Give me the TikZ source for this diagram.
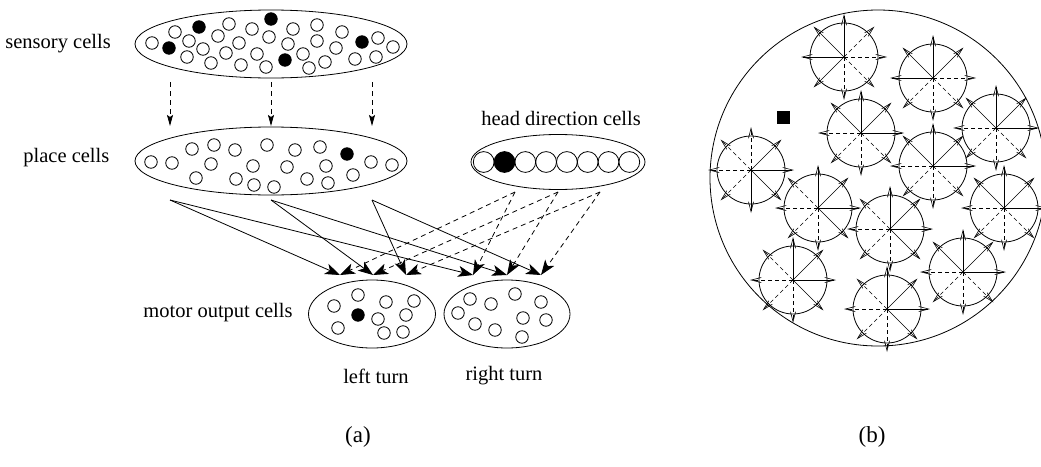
\documentclass[tikz,border=0pt]{standalone}
\usepackage{fontspec}
\setmainfont{Liberation Serif}
\usetikzlibrary{arrows.meta, shapes.geometric, positioning}

\tikzset{
  group/.style={ellipse, draw, inner sep=0pt},
  cell/.style={circle, draw, inner sep=0pt, minimum size=12.5pt},
  full/.style={cell, fill=black},
  hdcell/.style={circle, draw, inner sep=0pt, minimum size=20.8pt},
  hdfull/.style={hdcell, fill=black},
  lbl/.style={font=\fontsize{20.5}{24}\selectfont, inner sep=0pt},
  feed/.style={dash pattern=on 5pt off 4pt, -{Stealth[length=11pt, width=6pt, inset=2pt]}},
  excite/.style={-{Stealth[length=15pt, width=11pt, inset=4pt]}},
  dir/.style={line width=0.6pt, -{Straight Barb[length=10pt, width=5pt]}},
}

\begin{document}
\begin{tikzpicture}[x=1pt, y=-1pt, line width=0.8pt]
\useasboundingbox (0,0) rectangle (1041,466);

% (a) populations
\node[group, minimum width=272pt, minimum height=68pt] (sensory) at (271,44) {};
\node[group, minimum width=272pt, minimum height=68pt] (place) at (271,161) {};
\node[group, minimum width=174pt, minimum height=55pt] (head) at (558,162) {};
\node[group, minimum width=127pt, minimum height=68pt] (left) at (372,314) {};
\node[group, minimum width=126pt, minimum height=68pt] (right) at (507,314) {};

\node[lbl, anchor=west] (sensorylbl) at (5,44) {sensory cells};
\node[lbl, anchor=west] (placelbl) at (23,158) {place cells};
\node[lbl] (headlbl) at (561,118) {head direction cells};
\node[lbl, anchor=west] (motorlbl) at (143,313) {motor output cells};
\node[lbl] (leftlbl) at (376,376) {left turn};
\node[lbl] (rightlbl) at (504,376) {right turn};
\node[lbl, font=\fontsize{23}{26}\selectfont] (alabel) at (358,437) {(a)};
\node[lbl, font=\fontsize{23}{26}\selectfont] (blabel) at (872,437) {(b)};

% cells
\foreach \x/\y/\s [count=\i] in {152/43/cell, 169/48/full, 175/32/cell, 189/41/cell,
    199/27/full, 187/57/cell, 203/49/cell, 218/36/cell, 229/24/cell, 211/63/cell,
    226/53/cell, 239/43/cell, 252/29/cell, 241/65/cell, 257/54/cell, 271/19/full,
    269/37/cell, 266/67/cell, 293/29/cell, 288/44/cell, 285/60/full, 303/54/cell,
    309/68/cell, 317/25/cell, 317/41/cell, 325/62/cell, 336/48/cell, 342/32/cell,
    355/59/cell, 362/42/full, 378/38/cell, 376/57/cell, 393/47/cell}
  \node[\s] (s\i) at (\x,\y) {};
\foreach \x/\y/\s [count=\i] in {151/162/cell, 172/163/cell, 192/149/cell, 214/145/cell,
    235/150/cell, 211/164/cell, 196/178/cell, 236/179/cell, 253/166/cell, 254/185/cell,
    267/145/cell, 274/187/cell, 295/150/cell, 287/167/cell, 307/179/cell, 320/147/cell,
    326/166/cell, 328/183/cell, 347/154/full, 353/175/cell, 371/162/cell, 392/165/cell}
  \node[\s] (p\i) at (\x,\y) {};
\foreach \s [count=\i from 0] in {hdcell, hdfull, hdcell, hdcell, hdcell, hdcell, hdcell, hdcell}
  \node[\s] (hd\i) at (483.7+20.8*\i,162) {};
\foreach \x/\y/\s [count=\i] in {334/306/cell, 358/295/cell, 386/302/cell, 414/301/cell,
    358/315/full, 378/319/cell, 406/315/cell, 338/328/cell, 384/333/cell, 403/332/cell}
  \node[\s] (lt\i) at (\x,\y) {};
\foreach \x/\y [count=\i] in {470/299, 491/304, 515/294, 541/302, 458/313,
    475/324, 495/330, 523/318, 546/320, 522/337}
  \node[cell] (rt\i) at (\x,\y) {};

% connections
\foreach \x [count=\i] in {170,271,372} {
  \coordinate (top\i) at (\x,82);
  \coordinate (bot\i) at (\x,126);
  \draw[feed] (top\i) -- (bot\i);
  \coordinate (pc\i) at (\x,200);
}
\foreach \x [count=\i] in {515,558,600}
  \coordinate (hc\i) at (\x,192);
\foreach \x [count=\i] in {340,373,406}
  \coordinate (l\i) at (\x,275);
\foreach \x [count=\i] in {473,507,541}
  \coordinate (r\i) at (\x,275);
\foreach \i in {1,2,3} {
  \draw[excite] (pc\i) -- (l\i);
  \draw[excite] (pc\i) -- (r\i);
  \draw[excite, dash pattern=on 5pt off 4pt] (hc\i) -- (l\i);
  \draw[excite, dash pattern=on 5pt off 4pt] (hc\i) -- (r\i);
}

% (b) environment with place fields
\draw (878,178) circle[radius=168];
\fill (777,111) rectangle (790,124);
\foreach \cx/\cy/\a in {844/57/90, 933/78/45, 861/133/0, 996/128/0, 933/166/0,
    751/170/-90, 818/208/-45, 890/229/-45, 1004/208/0, 793/280/-45, 887/309/-45, 963/272/0} {
  \begin{scope}[shift={(\cx,\cy)}, yscale=-1]
    \draw (0,0) circle[radius=34];
    \foreach \k in {0,1,2,3}
      \draw[dir] (0,0) -- (\a+45*\k:43);
    \foreach \k in {4,5,6,7}
      \draw[dir, dash pattern=on 4pt off 3pt] (0,0) -- (\a+45*\k:43);
  \end{scope}
}
\end{tikzpicture}
\end{document}
